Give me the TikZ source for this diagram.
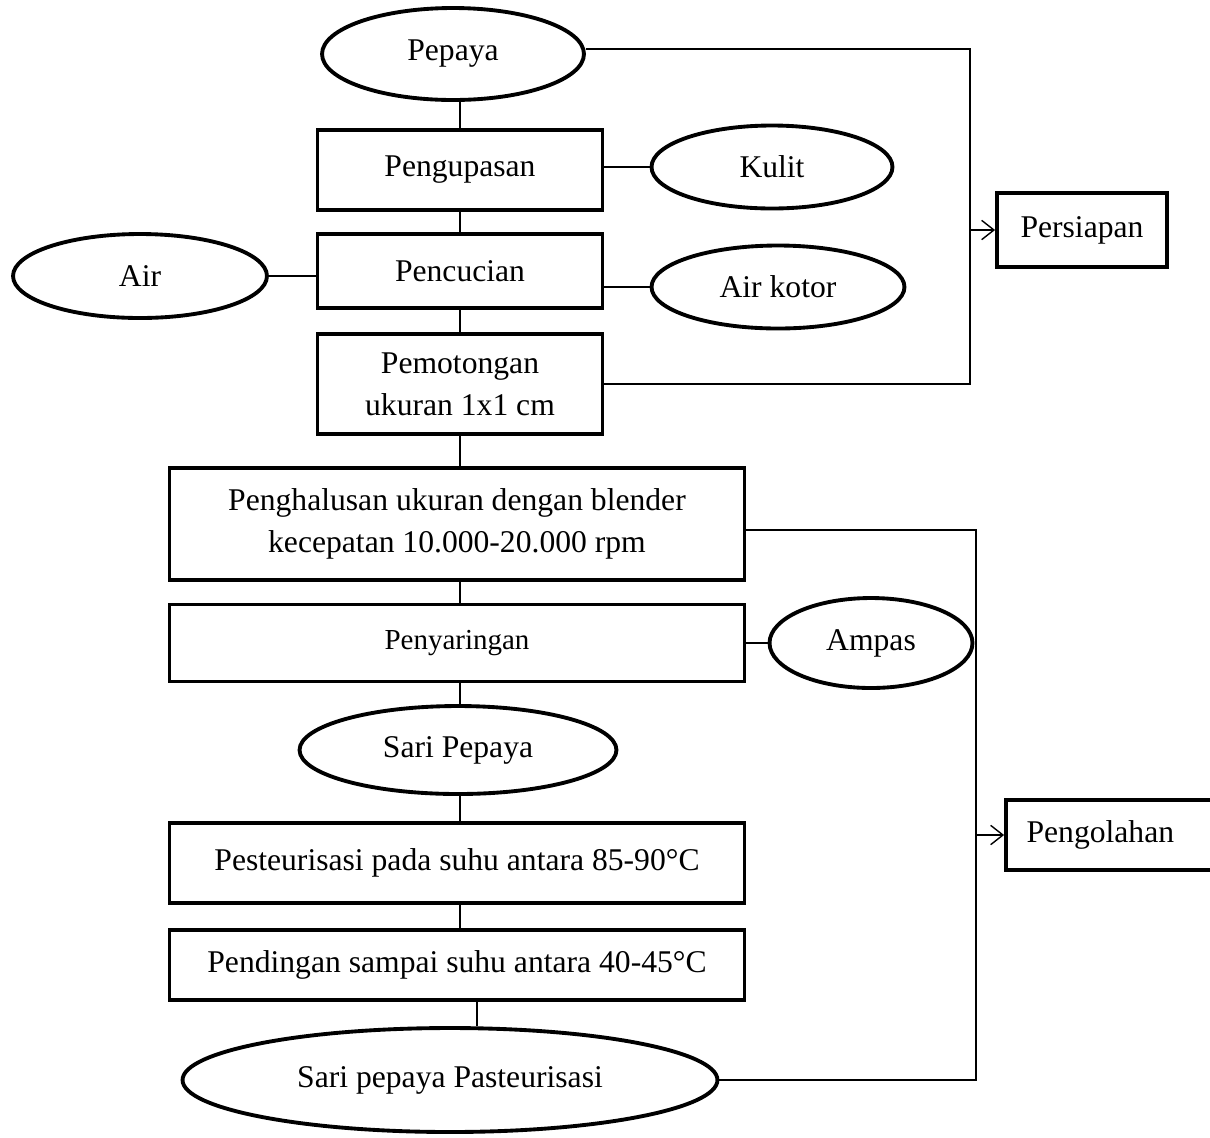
\documentclass[tikz,border=0pt]{standalone}
\usepackage{fontspec}
\setmainfont{Liberation Serif}
\usetikzlibrary{shapes.geometric,arrows.meta}
\begin{document}
\begin{tikzpicture}[x=0.02cm,y=-0.02cm,
  box/.style={draw,line width=2.2pt,rectangle,inner sep=0pt,align=center,font=\fontsize{18}{24}\selectfont},
  oval/.style={draw,line width=2.2pt,ellipse,inner sep=0pt,align=center,font=\fontsize{18}{24}\selectfont},
  conn/.style={line width=0.8pt},
  arr/.style={line width=0.8pt,-{Straight Barb[length=7pt,width=11pt]}}]
\clip (0,0) rectangle (1210,1137);
\fill[white] (0,0) rectangle (1210,1137);
% main column
\node[oval,minimum width=5.24cm,minimum height=1.84cm] (pepaya) at (453,54) {Pepaya};
\node[box,minimum width=5.7cm,minimum height=1.6cm] (kupas) at (460,170) {Pengupasan};
\node[oval,minimum width=4.82cm,minimum height=1.66cm] (kulit) at (772,167) {Kulit};
\node[box,minimum width=5.7cm,minimum height=1.48cm] (cuci) at (460,271) {Pencucian};
\node[oval,minimum width=5.08cm,minimum height=1.68cm] (air) at (140,276) {Air};
\node[oval,minimum width=5.06cm,minimum height=1.66cm] (kotor) at (778,287) {Air kotor};
\node[box,minimum width=5.7cm,minimum height=2.0cm] (potong) at (460,384) {Pemotongan\\ukuran 1x1 cm};
\node[box,minimum width=11.5cm,minimum height=2.24cm] (halus) at (457,524) {Penghalusan ukuran dengan blender\\kecepatan 10.000-20.000 rpm};
\node[box,minimum width=11.5cm,minimum height=1.54cm,font=\fontsize{16.5}{22}\selectfont] (saring) at (457,643) {Penyaringan};
\node[oval,minimum width=4.06cm,minimum height=1.8cm] (ampas) at (871,643) {Ampas};
\node[oval,minimum width=6.34cm,minimum height=1.76cm] (sari) at (458,750) {Sari Pepaya};
\node[box,minimum width=11.5cm,minimum height=1.6cm] (pasteur) at (457,863) {Pesteurisasi pada suhu antara 85-90°C};
\node[box,minimum width=11.5cm,minimum height=1.4cm] (dingin) at (457,965) {Pendingan sampai suhu antara 40-45°C};
\node[oval,minimum width=10.7cm,minimum height=2.08cm] (akhir) at (450,1080) {Sari pepaya Pasteurisasi};
% stage boxes
\node[box,minimum width=3.4cm,minimum height=1.48cm] (persiapan) at (1082,230) {Persiapan};
\node[box,minimum width=4.6cm,minimum height=1.4cm,text width=4.2cm,align=left] (olah) at (1121,835) {\hspace*{6pt}Pengolahan};
% vertical links
\draw[conn] (pepaya.south -| kupas) -- (kupas.north);
\draw[conn] (kupas) -- (cuci);
\draw[conn] (cuci) -- (potong);
\draw[conn] (potong.south) -- (potong.south |- halus.north);
\draw[conn] (halus.south -| potong) -- (saring.north -| potong);
\draw[conn] (saring.south -| potong) -- (sari.north -| potong);
\draw[conn] (sari.south -| potong) -- (pasteur.north -| potong);
\draw[conn] (pasteur.south -| potong) -- (dingin.north -| potong);
\coordinate (dl) at (477,1000);
\draw[conn] (dingin.south -| dl) -- (akhir.north -| dl);
% side links
\draw[conn] (kupas.east |- kulit.west) -- (kulit.west);
\draw[conn] (air.east) -- (cuci.west |- air.east);
\draw[conn] (cuci.east |- kotor.west) -- (kotor.west);
\draw[conn] (saring.east) -- (ampas.west);
% persiapan bus
\coordinate (b1) at (970,49);
\draw[conn] (pepaya.east |- b1) -- (b1) -- (b1 |- potong.east) -- (potong.east);
\draw[arr] (b1 |- persiapan.west) -- (persiapan.west);
% pengolahan bus
\coordinate (b2) at (976,530);
\draw[conn] (halus.east |- b2) -- (b2) -- (b2 |- akhir.east) -- (akhir.east);
\draw[arr] (b2 |- olah.west) -- (olah.west);
\end{tikzpicture}
\end{document}
